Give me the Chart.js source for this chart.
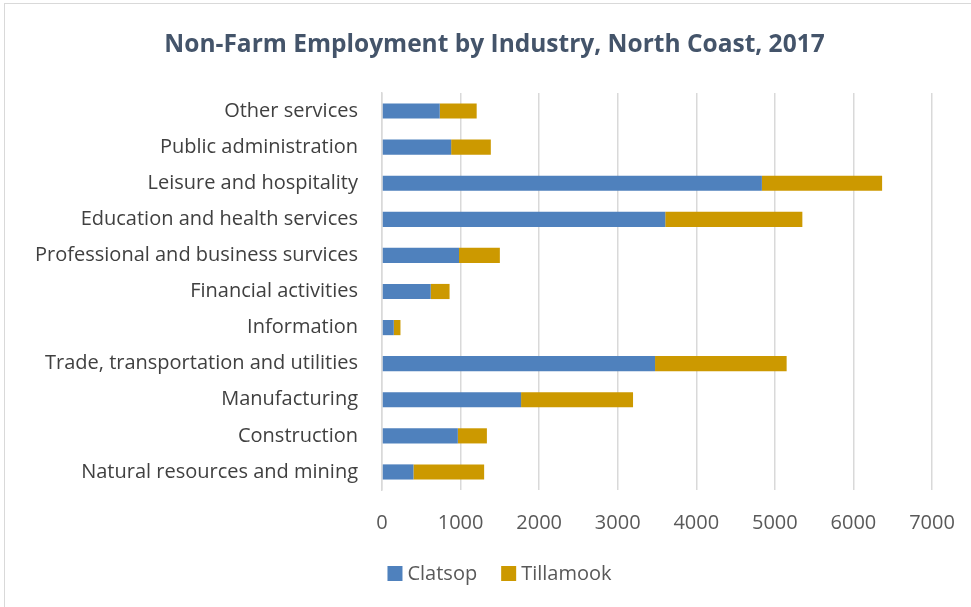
<!DOCTYPE html>
<html>
<head>
<meta charset="utf-8">
<script src="https://cdn.jsdelivr.net/npm/chart.js@4.4.1/dist/chart.umd.min.js"></script>
<style>
  html, body { margin: 0; padding: 0; background: #ffffff; }
  #frame {
    position: absolute; left: 4px; top: 3px; width: 980px; height: 620px;
    border: 1px solid #d9d9d9; box-sizing: border-box;
  }
  #wrap { position: absolute; left: 0; top: 0; width: 971px; height: 607px; }
</style>
</head>
<body>
<div id="frame"></div>
<div id="wrap"><canvas id="chart" width="971" height="607"></canvas></div>
<script>
// Industries, listed top to bottom as drawn
const industries = [
  "Other services",
  "Public administration",
  "Leisure and hospitality",
  "Education and health services",
  "Professional and business survices",
  "Financial activities",
  "Information",
  "Trade, transportation and utilities",
  "Manufacturing",
  "Construction",
  "Natural resources and mining"
];

// Jobs by county
const clatsop   = [735, 880, 4835, 3605, 980, 620, 150, 3475, 1770, 965, 400];
const tillamook = [470, 505, 1530, 1745, 520, 240, 85, 1675, 1425, 370, 900];

const seriesNames = ["Clatsop", "Tillamook"];
const axisTicks = [0, 1000, 2000, 3000, 4000, 5000, 6000, 7000];
const chartTitle = "Non-Farm Employment by Industry, North Coast, 2017";

const FONT = "'Open Sans', Lato, sans-serif";

// Title and legend are drawn centred on the whole frame rather than the plot
const headerAndKey = {
  id: "headerAndKey",
  afterDraw(chart) {
    const ctx = chart.ctx;
    ctx.save();
    // title
    ctx.fillStyle = "#44546a";
    ctx.font = "bold 24.5px " + FONT;
    ctx.textAlign = "center";
    ctx.textBaseline = "middle";
    ctx.fillText(chartTitle, 494.5, 45);

    // legend row
    ctx.font = "20px " + FONT;
    ctx.textAlign = "left";
    const box = 15, gap = 5, sep = 24, cy = 573.5;
    const items = chart.data.datasets.map(d => ({ text: d.label, color: d.backgroundColor }));
    const total = items.reduce((w, it) => w + box + gap + ctx.measureText(it.text).width, 0) + sep * (items.length - 1);
    let x = 499.5 - total / 2;
    items.forEach(it => {
      ctx.fillStyle = it.color;
      ctx.fillRect(x, cy - box / 2, box, box);
      x += box + gap;
      ctx.fillStyle = "#595959";
      ctx.fillText(it.text, x, cy + 1);
      x += ctx.measureText(it.text).width + sep;
    });
    ctx.restore();
  }
};

new Chart(document.getElementById("chart"), {
  type: "bar",
  data: {
    labels: industries,
    datasets: [
      { label: seriesNames[0], data: clatsop,   backgroundColor: "#4f81bd", borderWidth: 0 },
      { label: seriesNames[1], data: tillamook, backgroundColor: "#cc9900", borderWidth: 0 }
    ]
  },
  plugins: [headerAndKey],
  options: {
    indexAxis: "y",
    responsive: false,
    animation: false,
    layout: { padding: { left: 10, right: 39, top: 93, bottom: 50 } },
    datasets: { bar: { categoryPercentage: 1.0, barPercentage: 0.42 } },
    scales: {
      x: {
        stacked: true,
        min: 0, max: 7000,
        afterBuildTicks: (s) => { s.ticks = axisTicks.map(v => ({ value: v })); },
        afterFit: (s) => { s.paddingRight = 0; s.paddingLeft = 0; },
        grid: { color: "#d9d9d9", lineWidth: 1.5, drawTicks: false },
        border: { display: false },
        ticks: {
          color: "#595959", font: { family: FONT, size: 20 }, padding: 21.5,
          callback: (v) => String(v)
        }
      },
      y: {
        stacked: true,
        grid: { display: false, drawTicks: false },
        border: { display: true, color: "#d9d9d9", width: 1.5 },
        ticks: { color: "#404040", font: { family: FONT, size: 20 }, padding: 24 },
        afterFit: (s) => { s.width = 372; }
      }
    },
    plugins: {
      title: { display: false },
      legend: { display: false },
      tooltip: { enabled: false }
    }
  }
});
</script>
</body>
</html>
